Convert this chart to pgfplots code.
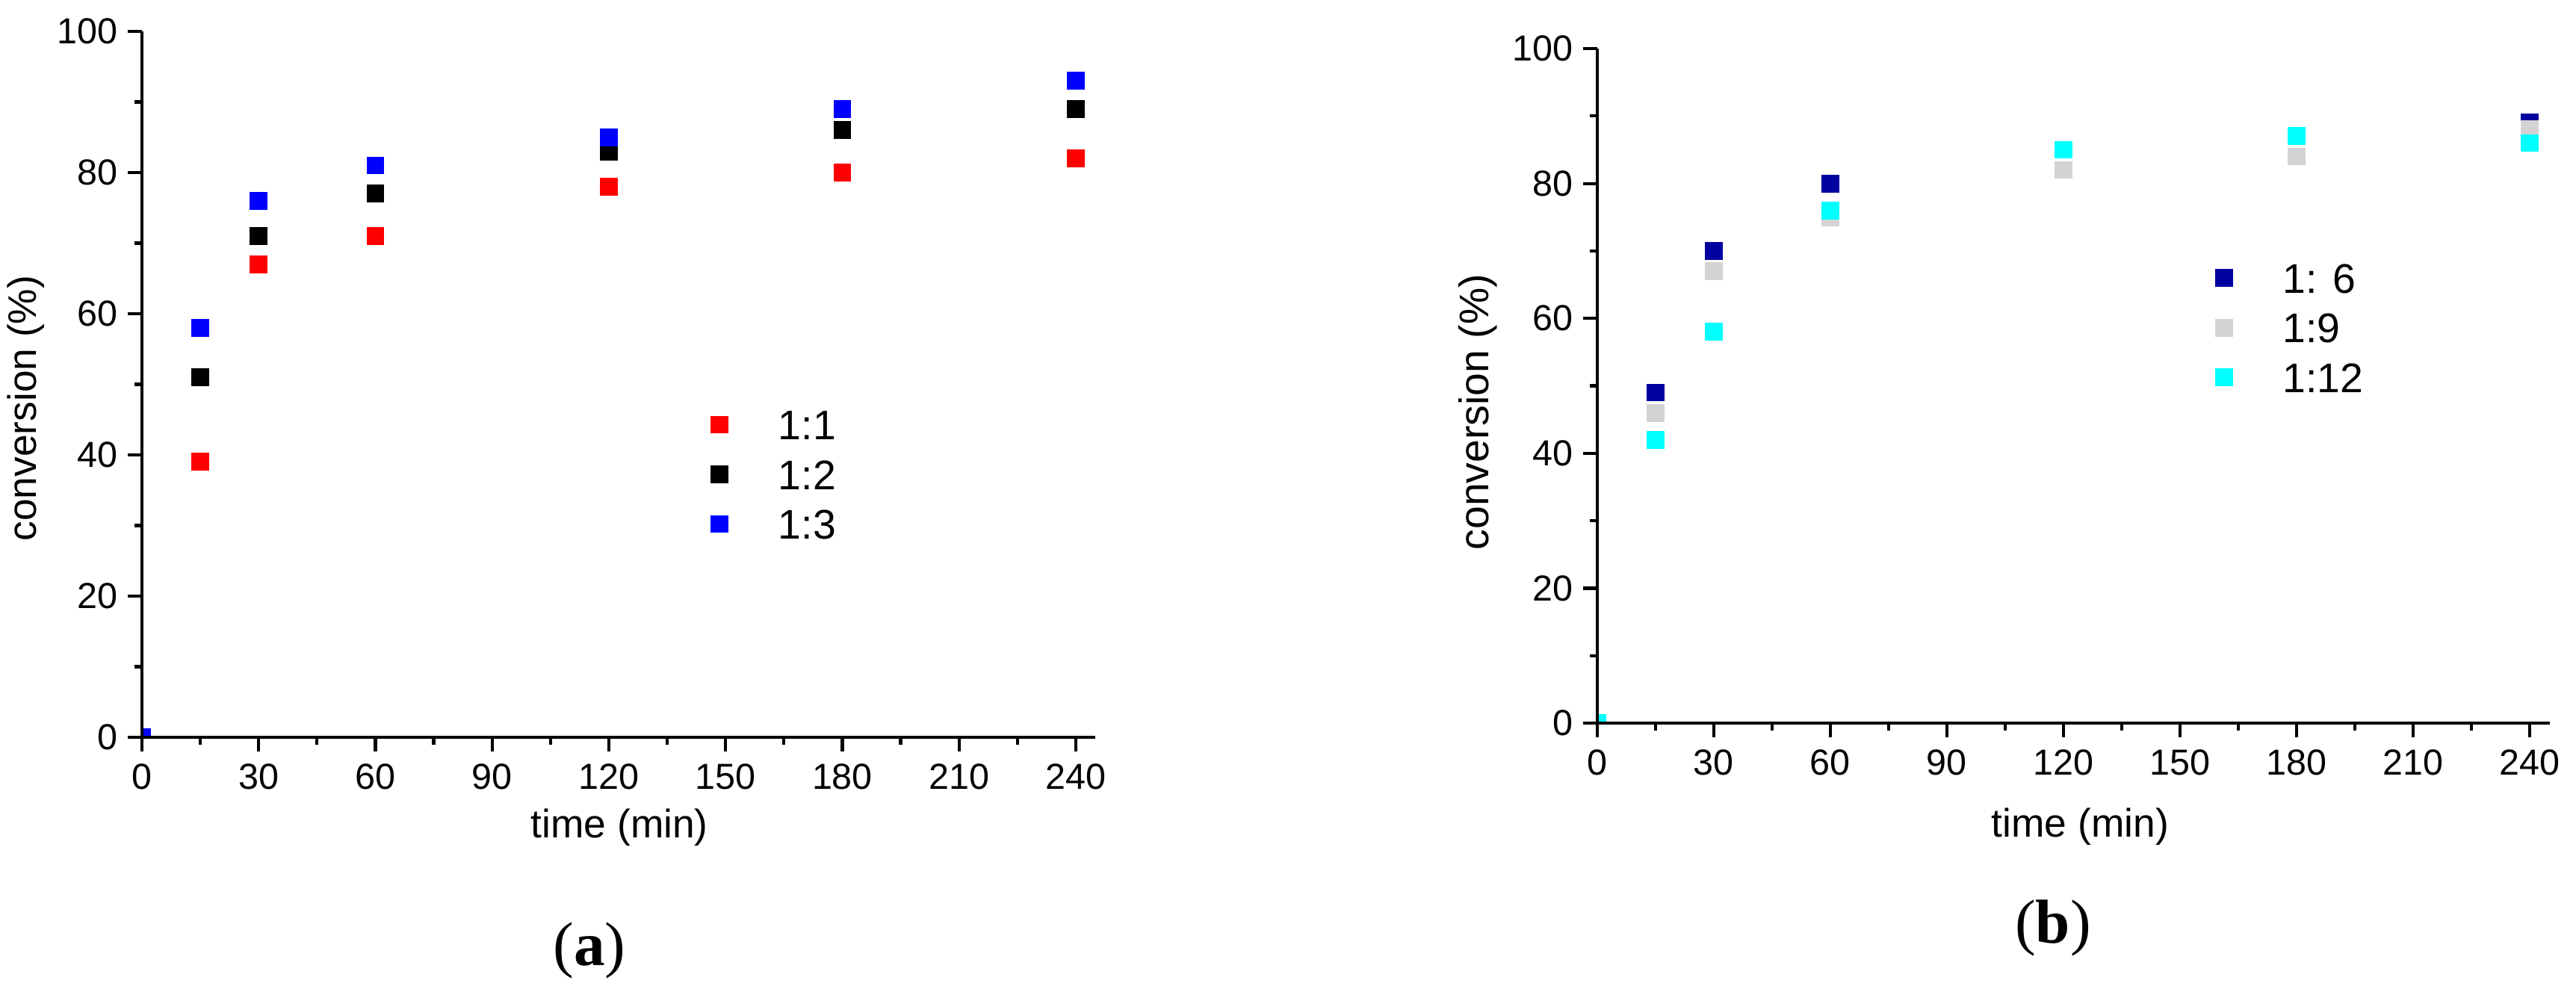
\documentclass[border=0pt]{standalone}
\usepackage{fontspec}
\setmainfont{Liberation Sans}
\newfontfamily\seriffont{Liberation Serif}
\usepackage{pgfplots}
\pgfplotsset{compat=1.18}

\definecolor{navyA}{RGB}{0,0,160}
\definecolor{lgray}{RGB}{211,211,211}
\definecolor{aqua}{RGB}{0,255,255}
\definecolor{pureRed}{RGB}{255,0,0}
\definecolor{pureBlue}{RGB}{0,0,255}

\pgfplotsset{
  originstyle/.style={
    scale only axis,
    axis lines*=left,
    axis line style={line width=0.6pt, black},
    axis on top,
    clip marker paths=true,
    xmin=0, ymin=0, ymax=100,
    xtick={0,30,...,240},
    ytick={0,20,...,100},
    minor x tick num=1,
    minor y tick num=1,
    tick align=outside,
    tick style={line width=0.6pt, black},
    major tick length=2.75pt,
    minor tick length=1.4pt,
    /pgf/number format/assume math mode=true,
    ticklabel style={font=\fontsize{7}{8}\selectfont},
    xticklabel style={inner sep=0pt, yshift=-2.2pt},
    yticklabel style={inner sep=0pt, xshift=-1.8pt},
    label style={font=\fontsize{7.7}{9}\selectfont},
    legend style={draw=none, fill=none, inner sep=0pt,
      font=\fontsize{8}{9}\selectfont,
      nodes={inner sep=0pt, text height=5.8pt, text depth=0pt, anchor=base west},
      column sep=9.7pt, row sep=3.8pt},
    legend cell align=left,
    legend image code/.code={\draw[#1] plot coordinates {(0pt,2.9pt)};},
    every axis plot/.append style={only marks, mark=square*, mark size=1.65pt,
      mark options={line width=0pt}},
  }
}

\begin{document}
\begin{tikzpicture}
\useasboundingbox (0,0) rectangle (17.499,-6.735);

% panel (a)
\begin{axis}[originstyle,
  at={(0.964cm,-5.009cm)}, anchor=south west,
  width=6.476cm, height=4.796cm,
  xmax=245,
  xlabel={time (min)},
  ylabel={conversion (\%)},
  xlabel style={at={(axis description cs:0.501,-0.128)}, anchor=center},
  ylabel style={at={(axis description cs:-0.122,0.466)}, anchor=center, rotate=0},
  legend style={at={(axis description cs:0.596,0.3725)}, anchor=west},
]
\addplot[color=pureRed] coordinates {(0,0)(15,39)(30,67)(60,71)(120,78)(180,80)(240,82)};
\addlegendentry{1:1}
\addplot[color=black] coordinates {(0,0)(15,51)(30,71)(60,77)(120,83)(180,86)(240,89)};
\addlegendentry{1:2}
\addplot[color=pureBlue] coordinates {(0,0)(15,58)(30,76)(60,81)(120,85)(180,89)(240,93)};
\addlegendentry{1:3}
\end{axis}

% panel (b)
\begin{axis}[originstyle,
  at={(10.850cm,-4.913cm)}, anchor=south west,
  width=6.471cm, height=4.583cm,
  xmax=245.2,
  xlabel={time (min)},
  ylabel={conversion (\%)},
  xlabel style={at={(axis description cs:0.507,-0.154)}, anchor=center},
  ylabel style={at={(axis description cs:-0.125,0.461)}, anchor=center, rotate=0,
    font=\fontsize{8}{9}\selectfont},
  legend style={at={(axis description cs:0.648,0.586)}, anchor=west},
]
\addplot[color=navyA] coordinates {(0,0)(15,49)(30,70)(60,80)(120,85)(180,87)(240,89)};
\addlegendentry{1: 6}
\addplot[color=lgray] coordinates {(0,0)(15,46)(30,67)(60,75)(120,82)(180,84)(240,88)};
\addlegendentry{1:9}
\addplot[color=aqua] coordinates {(0,0)(15,42)(30,58)(60,76)(120,85)(180,87)(240,86)};
\addlegendentry{1:12}
\end{axis}

\node[font=\seriffont\fontsize{12}{14}\selectfont] at (4.004,-6.460) {(\textbf{a})};
\node[font=\seriffont\fontsize{12}{14}\selectfont] at (13.946,-6.308) {(\textbf{b})};
\end{tikzpicture}
\end{document}
